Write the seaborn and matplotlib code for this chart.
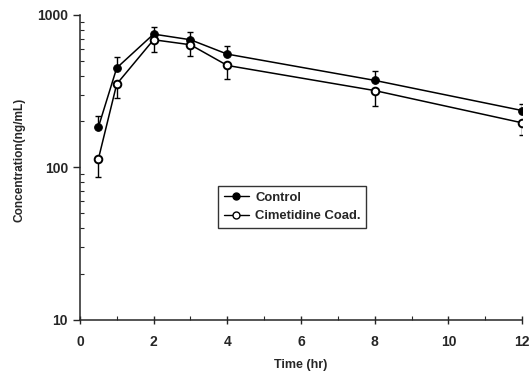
import numpy as np
import pandas as pd
import seaborn as sns
import matplotlib.pyplot as plt
from matplotlib.ticker import FixedLocator, LogLocator, NullFormatter

# dati
time_hr = [0.5, 1, 2, 3, 4, 8, 12]
control = [183, 449, 748, 687, 553, 372, 236]
control_upper = [216, 528, 839, 771, 627, 426, 261]
cimetidine = [113, 352, 687, 637, 466, 319, 196]
cimetidine_lower = [86, 285, 575, 534, 380, 251, 164]
series_names = ["Control", "Cimetidine Coad."]

df = pd.DataFrame({
    "Time": time_hr * 2,
    "Conc": control + cimetidine,
    "Gruppo": [series_names[0]] * len(time_hr) + [series_names[1]] * len(time_hr),
})

sns.set_style("ticks")
plt.rcParams["font.family"] = ["Liberation Sans", "DejaVu Sans"]
plt.rcParams["font.weight"] = "bold"

fig = plt.figure(figsize=(5.29, 3.72), dpi=100)
ax = fig.add_axes([0.151, 0.140, 0.836, 0.820])

sns.lineplot(data=df, x="Time", y="Conc", style="Gruppo", markers=["o", "o"], dashes=False,
             color="black", linewidth=1.1, markersize=5.5, ax=ax, legend=False, zorder=3)
# riempimento marker: pieno per Control, vuoto per Cimetidine
lines = ax.get_lines()
lines[0].set_markerfacecolor("black")
lines[0].set_markeredgecolor("black")
lines[1].set_markerfacecolor("white")
lines[1].set_markeredgecolor("black")
lines[1].set_markeredgewidth(1.4)

err_up = np.array(control_upper) - np.array(control)
err_dn = np.array(cimetidine) - np.array(cimetidine_lower)
ax.errorbar(time_hr, control, yerr=[np.zeros(len(err_up)), err_up], fmt="none",
            ecolor="black", elinewidth=1, capsize=2.5, zorder=2)
ax.errorbar(time_hr, cimetidine, yerr=[err_dn, np.zeros(len(err_dn))], fmt="none",
            ecolor="black", elinewidth=1, capsize=2.5, zorder=2)

ax.set_yscale("log")
ax.set_ylim(10, 1000)
ax.set_xlim(0, 12)
ax.set_xticks([0, 2, 4, 6, 8, 10, 12])
ax.xaxis.set_minor_locator(FixedLocator([1, 3, 5, 7, 9, 11]))
ax.set_yticks([10, 100, 1000])
ax.set_yticklabels(["10", "100", "1000"])
ax.yaxis.set_minor_locator(LogLocator(base=10, subs=np.arange(2, 10)))
ax.yaxis.set_minor_formatter(NullFormatter())

ax.tick_params(axis="x", which="major", direction="inout", length=6, width=1, labelsize=10, pad=8)
ax.tick_params(axis="y", which="major", direction="out", length=5, width=1, labelsize=10)
ax.tick_params(which="minor", direction="in", length=3, width=0.8)
for lab in ax.get_xticklabels() + ax.get_yticklabels():
    lab.set_fontweight("bold")

sns.despine(ax=ax)
ax.spines["left"].set_linewidth(1.1)
ax.spines["bottom"].set_linewidth(1.1)

ax.set_xlabel("Time (hr)", fontsize=9, fontweight="bold", labelpad=7)
ax.set_ylabel("Concentration(ng/mL)", fontsize=8.6, fontweight="bold", labelpad=10)
ax.yaxis.set_label_coords(-0.122, 0.525)

handles = [
    plt.Line2D([], [], color="black", marker="o", markerfacecolor="black", markersize=5, linewidth=1),
    plt.Line2D([], [], color="black", marker="o", markerfacecolor="white", markersize=5, linewidth=1),
]
leg = ax.legend(handles, series_names, loc="upper left", bbox_to_anchor=(0.312, 0.44),
                borderaxespad=0, frameon=True, fancybox=False, edgecolor="black", fontsize=9.4,
                handlelength=1.9, handletextpad=0.5, borderpad=0.45, labelspacing=0.5)
leg.get_frame().set_linewidth(1)
for t in leg.get_texts():
    t.set_fontweight("bold")

fig.savefig("out.png", dpi=100)
